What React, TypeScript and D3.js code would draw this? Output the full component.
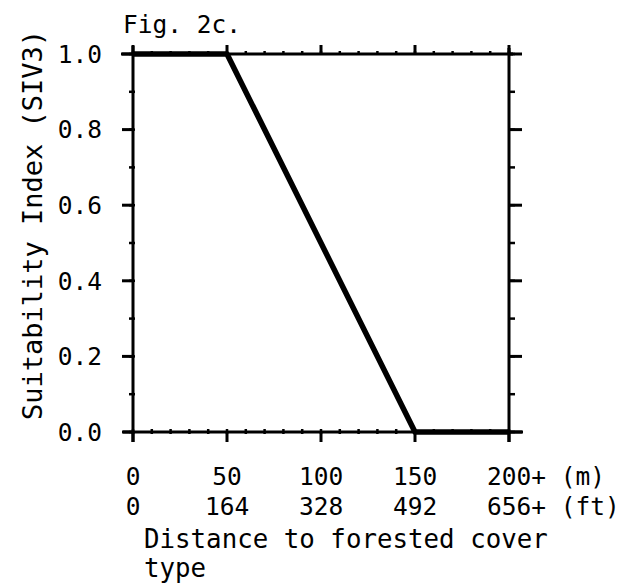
import React from 'react';
import * as d3 from 'd3';

// curve: distance to forested cover (m) -> suitability index
const distance = [0, 50, 150, 200];
const siv3 = [1, 1, 0, 0];

const meterTicks = [0, 50, 100, 150, 200];
const meterLabels = ['0', '50', '100', '150', '200+'];
const feetLabels = ['0', '164', '328', '492', '656+'];
const unitLabels = ['(m)', '(ft)'];
const yTicks = [0, 0.2, 0.4, 0.6, 0.8, 1.0];

const W = 628;
const H = 585;
const plot = { left: 133, right: 509, top: 54, bottom: 432 };
const FONT = '"DejaVu Sans Mono", "Liberation Mono", monospace';
const tickSize = 24.5;
const titleSize = 25.8;
const cw = tickSize * 0.602;

const App = () => {
  const x = d3.scaleLinear().domain([0, 200]).range([plot.left, plot.right]);
  const y = d3.scaleLinear().domain([0, 1]).range([plot.bottom, plot.top]);

  const line = d3.line<number>()
    .x((d, i) => x(distance[i]))
    .y(d => y(d));

  const xMinor = d3.range(0, 201, 10);
  const yMinor = d3.range(0, 1.01, 0.1);

  // center the digits on the tick, let "+" and units trail behind
  const labelStart = (v: number, label: string) => {
    const digits = label.replace(/[^0-9]/g, '').length;
    return x(v) - (digits * cw) / 2;
  };

  return (
    <svg width={W} height={H} style={{ position: 'absolute', left: 0, top: 0, background: '#fff' }}>
      <text x={123} y={33} fontFamily={FONT} fontSize={tickSize} fill="#000">Fig. 2c.</text>

      {/* frame */}
      <g stroke="#000" strokeWidth={3} fill="none">
        <line x1={plot.left - 12} x2={plot.right + 4} y1={plot.top} y2={plot.top} />
        <line x1={plot.left - 10} x2={plot.right + 14} y1={plot.bottom} y2={plot.bottom} />
        <line x1={plot.left} x2={plot.left} y1={plot.top - 8} y2={plot.bottom + 10} />
        <line x1={plot.right} x2={plot.right} y1={plot.top - 6} y2={plot.bottom + 10} />
      </g>

      {/* minor ticks */}
      <g stroke="#000" strokeWidth={2.5}>
        {xMinor.map(v => (
          <g key={'xm' + v}>
            <line x1={x(v)} x2={x(v)} y1={plot.bottom - 3} y2={plot.bottom + 2} />
            <line x1={x(v)} x2={x(v)} y1={plot.top - 3} y2={plot.top + 1} />
          </g>
        ))}
        {yMinor.map(v => (
          <g key={'ym' + v}>
            <line x1={plot.left - 4} x2={plot.left + 2} y1={y(v)} y2={y(v)} />
            <line x1={plot.right} x2={plot.right + 6} y1={y(v)} y2={y(v)} />
          </g>
        ))}
      </g>

      {/* major ticks */}
      <g stroke="#000" strokeWidth={3}>
        {meterTicks.map(v => (
          <g key={'xt' + v}>
            <line x1={x(v)} x2={x(v)} y1={plot.bottom} y2={plot.bottom + 10} />
            <line x1={x(v)} x2={x(v)} y1={plot.top - 9} y2={plot.top} />
          </g>
        ))}
        {yTicks.map(v => (
          <g key={'yt' + v}>
            <line x1={plot.left - 11} x2={plot.left} y1={y(v)} y2={y(v)} />
            <line x1={plot.right} x2={plot.right + 13} y1={y(v)} y2={y(v)} />
          </g>
        ))}
      </g>

      {/* y tick labels */}
      {yTicks.map(v => (
        <text key={'yl' + v} x={102} y={y(v)} dy="0.36em" textAnchor="end"
          fontFamily={FONT} fontSize={tickSize} fill="#000">{v.toFixed(1)}</text>
      ))}

      {/* x tick labels, meters and feet */}
      {meterTicks.map((v, i) => (
        <text key={'m' + v} x={labelStart(v, meterLabels[i])} y={485}
          fontFamily={FONT} fontSize={tickSize} fill="#000" style={{ whiteSpace: 'pre' }}>
          {i === meterTicks.length - 1 ? `${meterLabels[i]} ${unitLabels[0]}` : meterLabels[i]}
        </text>
      ))}
      {meterTicks.map((v, i) => (
        <text key={'f' + v} x={labelStart(v, feetLabels[i])} y={515}
          fontFamily={FONT} fontSize={tickSize} fill="#000" style={{ whiteSpace: 'pre' }}>
          {i === meterTicks.length - 1 ? `${feetLabels[i]} ${unitLabels[1]}` : feetLabels[i]}
        </text>
      ))}

      {/* axis titles */}
      <text x={144} y={548} fontFamily={FONT} fontSize={titleSize} fill="#000">Distance to forested cover</text>
      <text x={144} y={577} fontFamily={FONT} fontSize={titleSize} fill="#000">type</text>
      <text transform="translate(42,225) rotate(-90)" textAnchor="middle"
        fontFamily={FONT} fontSize={27} fill="#000">Suitability Index (SIV3)</text>

      {/* response curve */}
      <path d={line(siv3) ?? ''} fill="none" stroke="#000" strokeWidth={5.5} strokeLinejoin="round" />
    </svg>
  );
};

export default App;
